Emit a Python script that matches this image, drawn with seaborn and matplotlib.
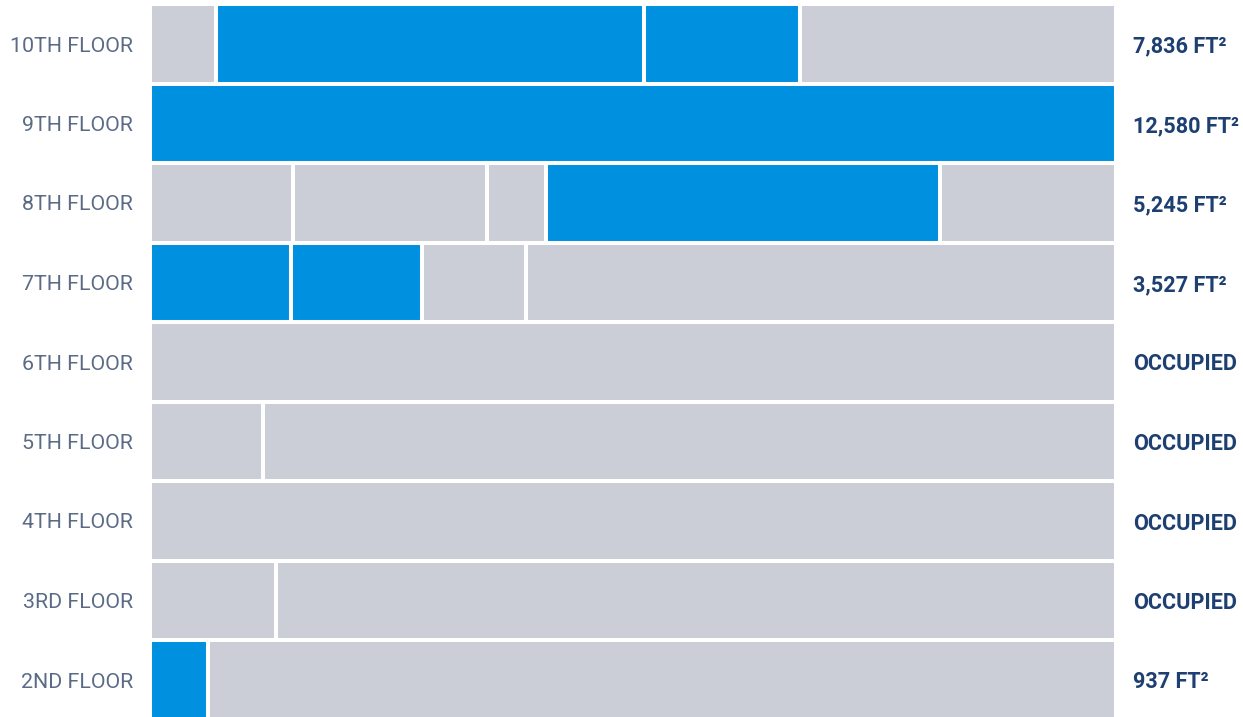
import numpy as np
import pandas as pd
import seaborn as sns
import matplotlib.pyplot as plt

sns.set_theme(style="white")
plt.rcParams['font.family'] = ['Roboto', 'DejaVu Sans']

floors = ['10TH FLOOR', '9TH FLOOR', '8TH FLOOR', '7TH FLOOR', '6TH FLOOR',
          '5TH FLOOR', '4TH FLOOR', '3RD FLOOR', '2ND FLOOR']
# segment widths in percent of the floor, left to right
widths = [
    [6.8, 44.3, 16.2, 32.7],
    [100.0],
    [14.8, 20.1, 6.1, 40.8, 18.2],
    [14.6, 13.6, 10.7, 61.1],
    [100.0],
    [11.7, 88.3],
    [100.0],
    [13.0, 87.0],
    [6.0, 94.0],
]
# 1 = available, 0 = occupied
available = [
    [0, 1, 1, 0],
    [1],
    [0, 0, 0, 1, 0],
    [1, 1, 0, 0],
    [0],
    [0, 0],
    [0],
    [0, 0],
    [1, 0],
]
right_labels = ['7,836 FT²', '12,580 FT²', '5,245 FT²', '3,527 FT²', 'OCCUPIED',
                'OCCUPIED', 'OCCUPIED', 'OCCUPIED', '937 FT²']

blue = '#0090E0'
gray = '#CBCED6'

rows = []
for i, (f, ws, av) in enumerate(zip(floors, widths, available)):
    left = 0.0
    for w, a in zip(ws, av):
        rows.append({'floor': f, 'row': i, 'left': left, 'width': w, 'avail': a})
        left += w
df = pd.DataFrame(rows)

fig = plt.figure(figsize=(12.43, 7.17), dpi=100)
ax = fig.add_axes([152 / 1243, -2.75 / 717, 962 / 1243, 715.5 / 717])

ax.barh(df['row'], df['width'], left=df['left'], height=1.0,
        color=[blue if a else gray for a in df['avail']],
        edgecolor='white', linewidth=2.9)

ax.set_xlim(0.2, 99.8)
ax.set_ylim(len(floors) - 0.5, -0.5)
ax.set_yticks(range(len(floors)))
ax.set_yticklabels(floors, fontsize=15.4, color='#5B6B86')
ax.tick_params(axis='y', length=0, pad=13.5)
ax.set_xticks([])
sns.despine(ax=ax, left=True, bottom=True)

for i, lab in enumerate(right_labels):
    ax.text(1.0198, i, lab, transform=ax.get_yaxis_transform(),
            ha='left', va='center_baseline', fontsize=15.6, fontweight='bold',
            color='#1E3F72')

fig.savefig('out.png', dpi=100)
